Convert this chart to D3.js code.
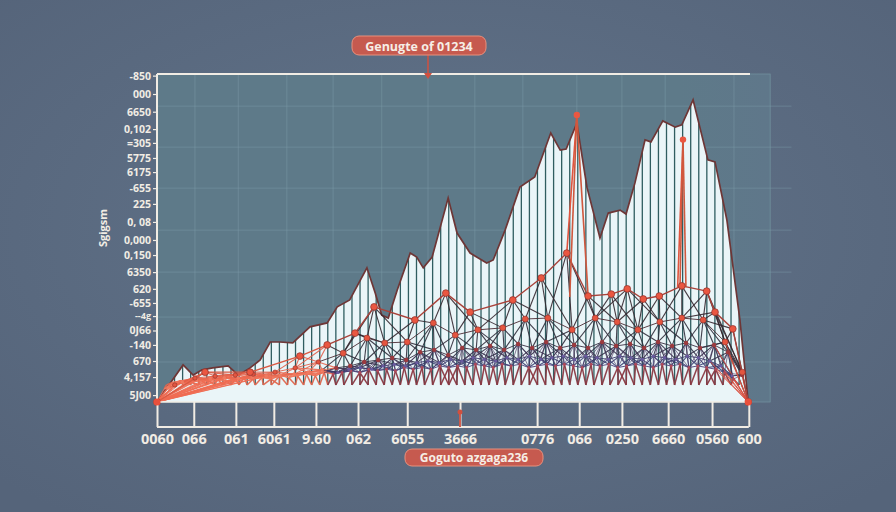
<!DOCTYPE html>
<html><head><meta charset="utf-8">
<script src="https://cdn.jsdelivr.net/npm/d3@7"></script>
<style>html,body{margin:0;padding:0;background:#5a6a7f;} svg{display:block;}</style>
</head><body><svg id="c" width="896" height="512"></svg>
<script>
// ---------- data ----------
const titleText = "Genugte of 01234";
const xAxisTitle = "Goguto azgaga236";
const yAxisTitle = "Sgigsm";
const xTickLabels = ["0060","066","061","6061","9.60","062","6055","3666","0776","066","0250","6660","0560","600"];
const xTickValues = [0, 6.2, 13.3, 19.7, 26.8, 33.9, 42.2, 51.1, 64.1, 71.2, 78.4, 86.2, 93.6, 99.8];
const yTickLabels = ["-850","000","6650","0,102","=305","5775","6175","-655","225","0, 08","0,000","0,150","6350","620","-655","--4g","0J66","-140","670","4,157","5J00"];
const yTickValues = [99.5,93.9,88.5,83.2,79.0,74.4,70.1,65.2,60.4,54.9,49.4,44.8,39.6,34.5,30.2,26.2,21.8,17.4,12.5,7.6,2.1];
const gridX = [6.4,13.7,21.9,29.7,37.9,45.7,53.6,61.7,70.8,78.4,85.7,97.3];
const gridY = [90.2,77.7,65.2,52.4,39.6,25.9,12.2];

// area envelope
const areaX = [0,4.4,6.1,7.6,9.4,12.0,13.7,15.7,17.4,19.1,20.7,22.9,25.8,28.7,30.4,32.5,35.4,36.8,37.9,39.0,40.5,42.7,43.8,44.9,46.4,49.1,50.6,52.8,55.6,56.7,58.7,61.2,63.7,66.4,68.0,69.0,70.8,72.5,74.7,76.1,78.1,79.1,80.6,82.3,83.3,85.3,87.4,88.5,90.4,92.9,94.1,96.1,98.3,99.7];
const areaY = [0,11.3,8.2,9.8,10.4,11.0,8.2,10.4,12.8,18.3,18.3,18.0,22.9,24.1,29.0,31.1,40.9,33.2,26.5,25.6,34.1,45.4,44.2,40.9,44.2,62.2,51.5,45.4,42.4,43.3,52.4,65.5,68.6,82.0,76.8,77.1,85.0,65.5,50.0,57.6,58.5,57.3,66.8,79.9,79.3,85.7,83.8,84.5,92.1,73.8,73.2,55.5,25.0,0];

// network layers
const L1x = [0,8.1,15.7,24.1,28.7,33.4,36.6,43.5,48.7,52.8,60.0,64.8,69.1,72.7,76.6,79.3,82.0,84.7,88.5,92.7,94.1,97.1,99.7];
const L1y = [0,9.1,9.1,14.0,17.4,21.0,29.0,25.0,33.2,27.4,31.1,37.8,45.4,32.3,32.9,34.5,31.4,32.3,35.4,33.8,27.4,22.3,0];
const L2x = [3.0,6.4,9.8,13.2,16.2,19.9,23.3,27.2,31.4,35.4,38.4,42.2,46.6,50.3,54.1,58.3,62.1,65.9,70.0,73.9,77.6,81.1,84.8,88.5,92.1,95.8,98.7];
const L2y = [5.2,7.3,7.9,8.2,8.5,9.1,10.4,12.2,14.9,19.5,18.0,18.3,24.1,20.4,22.0,22.6,25.3,25.6,22.0,25.6,24.4,22.0,24.4,25.6,25.0,18.3,9.1];
const L3y = [4.3,6.1,6.7,7.0,7.3,7.3,7.6,7.9,8.2,8.5,9.1,9.8,10.4,11.0,12.2,12.8,13.4,12.8,15.2,15.9,14.3,16.5,15.9,17.1,15.9,17.7,16.5,18.3,16.5,17.4,16.5,18.3,17.1,17.7,16.5,18.3,17.1,18.0,16.5,17.4,15.2,8.2];
const L3by = [5,6.5,7,6.5,7,7.5,7,7.5,8,7.5,
              8,8.5,9,8.5,9.5,9,10,10.5,10,11,
              11.5,11,12,12.5,12,13,12.5,13.5,13,12.5,
              13.5,13,14,13,13.5,14,13,14,13.5,13,
              14,13.5,13,14,13.5,13,14,13.5,12.5,11,
              8];
const L4y = [4,6,6.5,6,7,6.5,7,6.5,7,7.5,7,7.5,7,8,7.5,
             8,8.5,8,9,8.5,9,9.5,9,10,9.5,10,9.5,10.5,10,10.5,
             10,11,10.5,11,10.5,11.5,11,10.5,11.5,11,11.5,10.5,11,11.5,11,
             11.5,11,10.5,11.5,11,11.5,10.5,11,11.5,11,10.5,11.5,11,11.5,10.5,
             11,10.5,10,9,7];
const baseLevel = 5.2;
// red spikes: peak and foot points
const spikePeakX = [70.8, 88.7];
const spikePeakY = [87.5, 80.0];
const spikeFootX = [[69.1,69.6,72.7],[87.8,88.2,89.2]];
const spikeFootY = [[45.4,32.0,32.3],[35.0,35.4,35.0]];

// ---------- drawing ----------
const svg = d3.select("#c");
const W = 896, H = 512;
const x = d3.scaleLinear([0,100],[157,750]);
const y = d3.scaleLinear([0,100],[402,74]);

const defs = svg.append("defs");
const bg = defs.append("radialGradient").attr("id","bg").attr("cx","50%").attr("cy","45%").attr("r","70%");
bg.append("stop").attr("offset","0%").attr("stop-color","#62748a");
bg.append("stop").attr("offset","100%").attr("stop-color","#55647a");
svg.append("rect").attr("width",W).attr("height",H).attr("fill","url(#bg)");

// panel
const pg = defs.append("linearGradient").attr("id","pg").attr("x1","0").attr("x2","1").attr("y1","0").attr("y2","0");
pg.append("stop").attr("offset","0%").attr("stop-color","#5e7a89");
pg.append("stop").attr("offset","85%").attr("stop-color","#5e7a89");
pg.append("stop").attr("offset","100%").attr("stop-color","#5f778a");
svg.append("rect").attr("x",x(0)).attr("y",y(100)).attr("width",x(103.4)-x(0)).attr("height",y(0)-y(100))
  .attr("fill","url(#pg)").attr("stroke","#70909d").attr("stroke-width",0.8);
// grid
svg.append("g").selectAll("line").data(gridX).join("line")
  .attr("x1",d=>x(d)).attr("x2",d=>x(d)).attr("y1",y(100)).attr("y2",y(0))
  .attr("stroke","#7f9eab").attr("stroke-opacity",0.45).attr("stroke-width",1);
svg.append("g").selectAll("line").data(gridY).join("line")
  .attr("x1",x(0)).attr("x2",x(107)).attr("y1",d=>y(d)).attr("y2",d=>y(d))
  .attr("stroke","#7f9eab").attr("stroke-opacity",0.45).attr("stroke-width",1);

// area
const pts = areaX.map((v,i)=>[v,areaY[i]]);
const areaGen = d3.area().x(d=>x(d[0])).y0(y(0)).y1(d=>y(d[1])).curve(d3.curveLinear);
const lineGen = d3.line().x(d=>x(d[0])).y(d=>y(d[1])).curve(d3.curveLinear);
svg.append("path").attr("d",areaGen(pts)).attr("fill","#eaf5f8");
defs.append("clipPath").attr("id","ac").append("path").attr("d",areaGen(pts));
// stems (regular comb clipped to the area)
const stems = d3.range(1.6, 99, 1.36);
svg.append("g").attr("clip-path","url(#ac)").selectAll("line").data(stems).join("line")
  .attr("x1",d=>x(d)).attr("x2",d=>x(d)).attr("y1",y(baseLevel)).attr("y2",y(100))
  .attr("stroke","#2f5d60").attr("stroke-width",1.3);
svg.append("path").attr("d",lineGen(pts)).attr("fill","none").attr("stroke","#6e3636").attr("stroke-width",1.7);

// network
const L1 = L1x.map((v,i)=>({x:v,y:L1y[i]}));
const L2 = L2x.map((v,i)=>({x:v,y:L2y[i]}));
const L3 = L3y.map((v,i)=>({x:1.9+i*2.36,y:v}));
const L3b = L3by.map((v,i)=>({x:2+i*1.9,y:v}));
const L4 = L4y.map((v,i)=>({x:1.2+i*1.5,y:v}));
const L5 = stems.map(v=>({x:v,y:baseLevel}));
function links(A,B,maxDx){
  const out=[];
  A.forEach(a=>B.forEach(b=>{ if(Math.abs(x(a.x)-x(b.x))<=maxDx) out.push([a,b]); }));
  return out;
}
function chain(A){ const o=[]; for(let i=0;i<A.length-1;i++) o.push([A[i],A[i+1]]); return o; }
const net = svg.append("g").attr("fill","none");
function drawLinks(list, colL, colR, w, op){
  net.append("g").selectAll("line").data(list).join("line")
    .attr("x1",d=>x(d[0].x)).attr("y1",d=>y(d[0].y)).attr("x2",d=>x(d[1].x)).attr("y2",d=>y(d[1].y))
    .attr("stroke",d=>((x(d[0].x)+x(d[1].x))/2<330?colL:colR)).attr("stroke-width",w).attr("stroke-opacity",op);
}
drawLinks(links(L4,L5,9), "#e0664e", "#8a3842", 1.5, 0.95);
drawLinks(links(L3b,L4,16), "#ec7058", "#3a3e72", 1.1, 0.9);
drawLinks(chain(L4), "#ec7058", "#4a3f78", 1, 0.9);
drawLinks(links(L3,L3b,20), "#ec7058", "#333048", 1.1, 0.9);
drawLinks(links(L3,L4,20), "#ef7a5e", "#4a3560", 0.8, 0.8);
drawLinks(chain(L3b), "#ec7058", "#3d3c6c", 1, 0.9);
drawLinks(links(L2,L3,28), "#e9674f", "#2f2c3a", 1.1, 0.9);
drawLinks(chain(L3), "#e9674f", "#3a3144", 1, 0.9);
drawLinks(links(L1,L2,36), "#e25e48", "#33262e", 1.1, 0.9);
drawLinks(chain(L2), "#e25e48", "#4a2b33", 1, 0.9);
// corner fans
const corner0 = {x:0,y:0}, corner1 = {x:99.7,y:0};
const fanL = [...L2,...L3,...L3b,...L4].filter(n=>n.x<18).map(n=>[corner0,n]);
const fanR = [...L2,...L3,...L3b,...L4].filter(n=>n.x>93).map(n=>[corner1,n]);
drawLinks(fanL, "#ef6b52", "#ef6b52", 1, 0.9);
drawLinks(fanR, "#d9503f", "#d9503f", 1, 0.9);
drawLinks(chain(L1), "#d95a44", "#a8423a", 1.4, 1);

// spikes
spikePeakX.forEach((px,i)=>{
  spikeFootX[i].forEach((fx,j)=>{
    net.append("line").attr("x1",x(px)).attr("y1",y(spikePeakY[i])).attr("x2",x(fx)).attr("y2",y(spikeFootY[i][j]))
      .attr("stroke", j===0?"#e0553f":"#d0583e").attr("stroke-width",1.6);
  });
});

// dots
const dots = svg.append("g");
dots.selectAll(".d4").data(L4.filter(d=>x(d.x)>330)).join("circle").attr("class","d4")
  .attr("cx",d=>x(d.x)).attr("cy",d=>y(d.y)).attr("r",1.5).attr("fill","#b04a5a");
dots.selectAll(".d3b").data(L3b.filter(d=>x(d.x)>330)).join("circle").attr("class","d3b")
  .attr("cx",d=>x(d.x)).attr("cy",d=>y(d.y)).attr("r",1.6).attr("fill","#6a5aa0");
dots.selectAll(".d3").data(L3).join("circle").attr("class","d3")
  .attr("cx",d=>x(d.x)).attr("cy",d=>y(d.y)).attr("r",d=>x(d.x)<330?1.8:2.2).attr("fill",d=>x(d.x)<330?"#f07a60":"#9c3a3e");
dots.selectAll(".d2").data(L2).join("circle").attr("class","d2")
  .attr("cx",d=>x(d.x)).attr("cy",d=>y(d.y)).attr("r",d=>x(d.x)<330?2.2:3).attr("fill","#e4553f").attr("stroke","#8c2f2b").attr("stroke-width",0.6);
dots.selectAll(".d1").data(L1).join("circle").attr("class","d1")
  .attr("cx",d=>x(d.x)).attr("cy",d=>y(d.y)).attr("r",3.4).attr("fill","#ea5741").attr("stroke","#8c2f2b").attr("stroke-width",0.7);
dots.selectAll(".sp").data(spikePeakX).join("circle").attr("class","sp")
  .attr("cx",d=>x(d)).attr("cy",(d,i)=>y(spikePeakY[i])).attr("r",3.2).attr("fill","#ea5741");

// axes
const textCol = "#f1ece4";
const yAxis = svg.append("g").attr("transform",`translate(${x(0)},0)`)
  .call(d3.axisLeft(y).tickValues(yTickValues).tickFormat((d,i)=>yTickLabels[i]).tickSize(4).tickPadding(2));
yAxis.select(".domain").remove();
yAxis.selectAll("line").attr("stroke",textCol).attr("stroke-width",1.2);
yAxis.selectAll("text").attr("fill",textCol).style("font",(d,i)=>i===15?"700 9px 'Open Sans', sans-serif":"700 10.5px 'Open Sans', sans-serif");

const xAxis = svg.append("g").attr("transform",`translate(0,${y(0)})`)
  .call(d3.axisBottom(x).tickValues(xTickValues).tickFormat((d,i)=>xTickLabels[i]).tickSizeInner(25).tickSizeOuter(0).tickPadding(7));
xAxis.select(".domain").remove();
xAxis.selectAll("line").attr("stroke",textCol).attr("stroke-width",2);
xAxis.selectAll("text").attr("fill",textCol).style("font","700 14.5px 'Open Sans', sans-serif");
// box lines
svg.append("line").attr("x1",x(0)).attr("x2",x(99.8)).attr("y1",y(0)+25).attr("y2",y(0)+25).attr("stroke",textCol).attr("stroke-width",2);
svg.append("line").attr("x1",x(0)).attr("x2",x(99.8)).attr("y1",y(0)).attr("y2",y(0)).attr("stroke",textCol).attr("stroke-width",1.5);
// frame lines
svg.append("line").attr("x1",x(0)).attr("x2",x(0)).attr("y1",y(100)).attr("y2",y(0)).attr("stroke",textCol).attr("stroke-width",2);
svg.append("line").attr("x1",x(0)).attr("x2",x(100)).attr("y1",y(100)).attr("y2",y(100)).attr("stroke",textCol).attr("stroke-width",2.2);

// corner dots
svg.selectAll(".cd").data([corner0,corner1]).join("circle").attr("class","cd")
  .attr("cx",d=>x(d.x)).attr("cy",d=>y(d.y)).attr("r",3.5).attr("fill","#e8503c");

// title badge
svg.append("line").attr("x1",428).attr("x2",428).attr("y1",55).attr("y2",76).attr("stroke","#d0503f").attr("stroke-width",1.5);
svg.append("path").attr("d","M424,73 L432,73 L428,79 Z").attr("fill","#d0503f");
svg.append("rect").attr("x",352).attr("y",36).attr("width",134).attr("height",19).attr("rx",7)
  .attr("fill","#c65a4f").attr("stroke","#e8907c").attr("stroke-width",1);
svg.append("text").attr("x",419).attr("y",46).attr("text-anchor","middle").attr("dominant-baseline","central")
  .attr("fill","#f6eee6").style("font","700 12.5px 'Open Sans', sans-serif").text(titleText);

// bottom marker + badge
svg.append("line").attr("x1",460).attr("x2",460).attr("y1",411).attr("y2",427).attr("stroke","#d0503f").attr("stroke-width",1.8);
svg.append("circle").attr("cx",460).attr("cy",412).attr("r",2.5).attr("fill","#d0503f");
svg.append("rect").attr("x",405).attr("y",449).attr("width",138).attr("height",17).attr("rx",7)
  .attr("fill","#c65a4f").attr("stroke","#e8907c").attr("stroke-width",1);
svg.append("text").attr("x",474).attr("y",457.5).attr("text-anchor","middle").attr("dominant-baseline","central")
  .attr("fill","#f6eee6").style("font","700 12px 'Open Sans', sans-serif").text(xAxisTitle);

// y title
svg.append("text").attr("transform","translate(102,228) rotate(-90)").attr("text-anchor","middle").attr("dominant-baseline","central")
  .attr("fill",textCol).style("font","700 11px 'Open Sans', sans-serif").text(yAxisTitle);
</script>
</body></html>
